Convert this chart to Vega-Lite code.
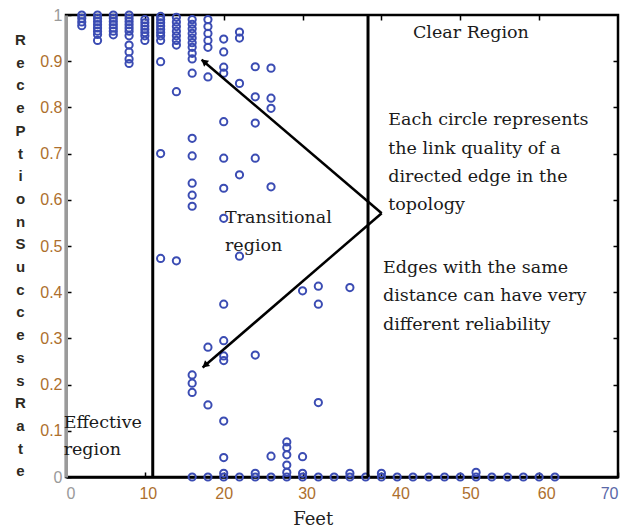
{
  "$schema": "https://vega.github.io/schema/vega-lite/v6.json",
  "width": 552,
  "height": 462,
  "autosize": {"type": "none"},
  "padding": {"left": 66, "top": 15, "right": 22, "bottom": 54},
  "background": "white",
  "config": {
    "view": {"stroke": "black", "strokeWidth": 2.5},
    "axis": {"grid": false, "tickColor": "black", "tickWidth": 1.5}
  },
  "datasets": {
    "pts": [
      {"x": 2, "y": 1.0}, {"x": 2, "y": 0.993}, {"x": 2, "y": 0.985}, {"x": 2, "y": 0.977},
      {"x": 4, "y": 1.0}, {"x": 4, "y": 0.993}, {"x": 4, "y": 0.986}, {"x": 4, "y": 0.979}, {"x": 4, "y": 0.972}, {"x": 4, "y": 0.965}, {"x": 4, "y": 0.958}, {"x": 4, "y": 0.945},
      {"x": 6, "y": 1.0}, {"x": 6, "y": 0.993}, {"x": 6, "y": 0.986}, {"x": 6, "y": 0.979}, {"x": 6, "y": 0.972}, {"x": 6, "y": 0.965}, {"x": 6, "y": 0.957},
      {"x": 8, "y": 1.0}, {"x": 8, "y": 0.993}, {"x": 8, "y": 0.986}, {"x": 8, "y": 0.979}, {"x": 8, "y": 0.972}, {"x": 8, "y": 0.965}, {"x": 8, "y": 0.955}, {"x": 8, "y": 0.935}, {"x": 8, "y": 0.92}, {"x": 8, "y": 0.905}, {"x": 8, "y": 0.895},
      {"x": 10, "y": 0.99}, {"x": 10, "y": 0.983}, {"x": 10, "y": 0.976}, {"x": 10, "y": 0.969}, {"x": 10, "y": 0.962}, {"x": 10, "y": 0.955}, {"x": 10, "y": 0.945},
      {"x": 12, "y": 0.997}, {"x": 12, "y": 0.99}, {"x": 12, "y": 0.983}, {"x": 12, "y": 0.976}, {"x": 12, "y": 0.969}, {"x": 12, "y": 0.962}, {"x": 12, "y": 0.955}, {"x": 12, "y": 0.945}, {"x": 12, "y": 0.899}, {"x": 12, "y": 0.70}, {"x": 12, "y": 0.473},
      {"x": 14, "y": 0.995}, {"x": 14, "y": 0.985}, {"x": 14, "y": 0.975}, {"x": 14, "y": 0.965}, {"x": 14, "y": 0.955}, {"x": 14, "y": 0.945}, {"x": 14, "y": 0.935}, {"x": 14, "y": 0.834}, {"x": 14, "y": 0.468},
      {"x": 16, "y": 0.99}, {"x": 16, "y": 0.98}, {"x": 16, "y": 0.97}, {"x": 16, "y": 0.96}, {"x": 16, "y": 0.95}, {"x": 16, "y": 0.94}, {"x": 16, "y": 0.93}, {"x": 16, "y": 0.917}, {"x": 16, "y": 0.905}, {"x": 16, "y": 0.874}, {"x": 16, "y": 0.733}, {"x": 16, "y": 0.695}, {"x": 16, "y": 0.636}, {"x": 16, "y": 0.61}, {"x": 16, "y": 0.586}, {"x": 16, "y": 0.221}, {"x": 16, "y": 0.203}, {"x": 16, "y": 0.183}, {"x": 16, "y": 0},
      {"x": 18, "y": 0.99}, {"x": 18, "y": 0.975}, {"x": 18, "y": 0.96}, {"x": 18, "y": 0.945}, {"x": 18, "y": 0.93}, {"x": 18, "y": 0.866}, {"x": 18, "y": 0.281}, {"x": 18, "y": 0.156}, {"x": 18, "y": 0},
      {"x": 20, "y": 0.948}, {"x": 20, "y": 0.92}, {"x": 20, "y": 0.887}, {"x": 20, "y": 0.874}, {"x": 20, "y": 0.769}, {"x": 20, "y": 0.69}, {"x": 20, "y": 0.625}, {"x": 20, "y": 0.56}, {"x": 20, "y": 0.374}, {"x": 20, "y": 0.295}, {"x": 20, "y": 0.262}, {"x": 20, "y": 0.252}, {"x": 20, "y": 0.121}, {"x": 20, "y": 0.042}, {"x": 20, "y": 0}, {"x": 20, "y": 0.008},
      {"x": 22, "y": 0.963}, {"x": 22, "y": 0.95}, {"x": 22, "y": 0.852}, {"x": 22, "y": 0.654}, {"x": 22, "y": 0.478}, {"x": 22, "y": 0},
      {"x": 24, "y": 0.888}, {"x": 24, "y": 0.823}, {"x": 24, "y": 0.766}, {"x": 24, "y": 0.69}, {"x": 24, "y": 0.264}, {"x": 24, "y": 0}, {"x": 24, "y": 0.008},
      {"x": 26, "y": 0.885}, {"x": 26, "y": 0.82}, {"x": 26, "y": 0.798}, {"x": 26, "y": 0.628}, {"x": 26, "y": 0.045}, {"x": 26, "y": 0},
      {"x": 28, "y": 0.076}, {"x": 28, "y": 0.064}, {"x": 28, "y": 0.048}, {"x": 28, "y": 0.026}, {"x": 28, "y": 0}, {"x": 28, "y": 0.01},
      {"x": 30, "y": 0.403}, {"x": 30, "y": 0.044}, {"x": 30, "y": 0}, {"x": 30, "y": 0.008},
      {"x": 32, "y": 0.413}, {"x": 32, "y": 0.374}, {"x": 32, "y": 0.161}, {"x": 32, "y": 0},
      {"x": 34, "y": 0},
      {"x": 36, "y": 0.41}, {"x": 36, "y": 0}, {"x": 36, "y": 0.008},
      {"x": 38, "y": 0}, {"x": 40, "y": 0}, {"x": 40, "y": 0.008}, {"x": 42, "y": 0}, {"x": 44, "y": 0}, {"x": 46, "y": 0}, {"x": 48, "y": 0}, {"x": 50, "y": 0},
      {"x": 52, "y": 0}, {"x": 52, "y": 0.01}, {"x": 54, "y": 0}, {"x": 56, "y": 0}, {"x": 58, "y": 0}, {"x": 60, "y": 0}, {"x": 62, "y": 0}
    ],
    "vlines": [{"x": 11.0}, {"x": 38.3}],
    "arrows": [
      {"x": 40.03, "y": 0.571, "x2": 17.2, "y2": 0.903},
      {"x": 40.03, "y": 0.571, "x2": 17.33, "y2": 0.237}
    ],
    "heads": [
      {"id": "up", "x": 17.5, "y": 0.899},
      {"id": "down", "x": 17.63, "y": 0.2416}
    ],
    "notes": [
      {"x": 44.0, "y": 0.961, "t": "Clear Region"},
      {"x": 40.87, "y": 0.773, "t": "Each circle represents"},
      {"x": 40.87, "y": 0.711, "t": "the link quality of a"},
      {"x": 40.87, "y": 0.649, "t": "directed edge in the"},
      {"x": 40.87, "y": 0.588, "t": "topology"},
      {"x": 40.2, "y": 0.452, "t": "Edges with the same"},
      {"x": 40.2, "y": 0.392, "t": "distance can have very"},
      {"x": 40.2, "y": 0.329, "t": "different reliability"},
      {"x": 20.16, "y": 0.561, "t": "Transitional"},
      {"x": 20.16, "y": 0.5, "t": "region"},
      {"x": -0.3, "y": 0.1175, "t": "Effective"},
      {"x": -0.3, "y": 0.0584, "t": "region"}
    ]
  },
  "layer": [
    {
      "data": {"name": "pts"},
      "mark": {"type": "point", "shape": "circle", "filled": false, "color": "#3b4cb3", "strokeWidth": 2, "size": 52, "opacity": 1, "clip": false},
      "encoding": {
        "x": {
          "field": "x", "type": "quantitative",
          "scale": {"domain": [0, 70], "nice": false, "zero": false},
          "axis": {
            "orient": "bottom",
            "values": [0, 10, 20, 30, 40, 50, 60, 70],
            "tickSize": -5,
            "domainColor": "black", "domainWidth": 2.5,
            "labelFont": "Liberation Sans", "labelFontSize": 16,
            "labelPadding": 13,
            "labelColor": {"condition": [
              {"test": "datum.value == 0", "value": "#9a9a9a"},
              {"test": "datum.value == 70", "value": "#5a68a8"}
            ], "value": "#ad6f2e"},
            "labelOffset": {"condition": [
              {"test": "datum.value == 10", "value": 3},
              {"test": "datum.value == 30", "value": 4},
              {"test": "datum.value == 40", "value": 19},
              {"test": "datum.value == 50", "value": 10},
              {"test": "datum.value == 60", "value": 7}
            ], "value": 0},
            "title": "Feet",
            "titleFont": "DejaVu Serif", "titleFontSize": 18, "titleFontWeight": "normal", "titleColor": "#222",
            "titleX": 246.7, "titleY": 42, "titleAlign": "center", "titleBaseline": "middle"
          }
        },
        "y": {
          "field": "y", "type": "quantitative",
          "scale": {"domain": [0, 1], "nice": false},
          "axis": {
            "orient": "left",
            "values": [0, 0.1, 0.2, 0.3, 0.4, 0.5, 0.6, 0.7, 0.8, 0.9, 1],
            "labelExpr": "datum.value == 0 ? '0' : datum.value == 1 ? '1' : format(datum.value, '.1f')",
            "tickSize": -5,
            "domainColor": "#9a9a9a", "domainWidth": 3,
            "labelFont": "Liberation Sans", "labelFontSize": 16,
            "labelPadding": 9,
            "labelColor": {"condition": {"test": "datum.value == 0 || datum.value == 1", "value": "#9a9a9a"}, "value": "#ad6f2e"},
            "title": ["R","e","c","e","P","t","i","o","n","S","u","c","c","e","s","s","R","a","t","e"],
            "titleAngle": 0,
            "titleFont": "Liberation Sans", "titleFontSize": 15, "titleFontWeight": "bold", "titleColor": "#2e2a22",
            "titleLineHeight": 22.7,
            "titleAlign": "center", "titleBaseline": "top",
            "titleX": -46, "titleY": 17.5
          }
        }
      }
    },
    {
      "data": {"name": "vlines"},
      "mark": {"type": "rule", "color": "black", "strokeWidth": 3},
      "encoding": {
        "x": {
          "field": "x", "type": "quantitative",
          "axis": {"orient": "top", "values": [10, 20, 30, 40, 50, 60], "labels": false, "domain": false, "tickSize": -5, "title": null}
        }
      }
    },
    {
      "data": {"name": "arrows"},
      "mark": {"type": "rule", "color": "black", "strokeWidth": 2.5},
      "encoding": {
        "x": {"field": "x", "type": "quantitative", "axis": null},
        "y": {
          "field": "y", "type": "quantitative",
          "axis": {"orient": "right", "values": [0.1, 0.2, 0.3, 0.4, 0.5, 0.6, 0.7, 0.8, 0.9], "labels": false, "domain": false, "tickSize": -5, "title": null}
        },
        "x2": {"field": "x2"},
        "y2": {"field": "y2"}
      }
    },
    {
      "data": {"name": "heads"},
      "transform": [{"filter": "datum.id == 'up'"}],
      "mark": {"type": "point", "shape": "triangle-up", "filled": true, "color": "black", "size": 60, "angle": 310, "opacity": 1},
      "encoding": {
        "x": {"field": "x", "type": "quantitative", "axis": null},
        "y": {"field": "y", "type": "quantitative", "axis": null}
      }
    },
    {
      "data": {"name": "heads"},
      "transform": [{"filter": "datum.id == 'down'"}],
      "mark": {"type": "point", "shape": "triangle-up", "filled": true, "color": "black", "size": 60, "angle": 229, "opacity": 1},
      "encoding": {
        "x": {"field": "x", "type": "quantitative", "axis": null},
        "y": {"field": "y", "type": "quantitative", "axis": null}
      }
    },
    {
      "data": {"name": "notes"},
      "mark": {"type": "text", "font": "DejaVu Serif", "fontSize": 17.5, "align": "left", "baseline": "middle", "color": "#1a1a1a"},
      "encoding": {
        "x": {"field": "x", "type": "quantitative", "axis": null},
        "y": {"field": "y", "type": "quantitative", "axis": null},
        "text": {"field": "t"}
      }
    }
  ],
  "resolve": {"axis": {"x": "independent", "y": "independent"}}
}
